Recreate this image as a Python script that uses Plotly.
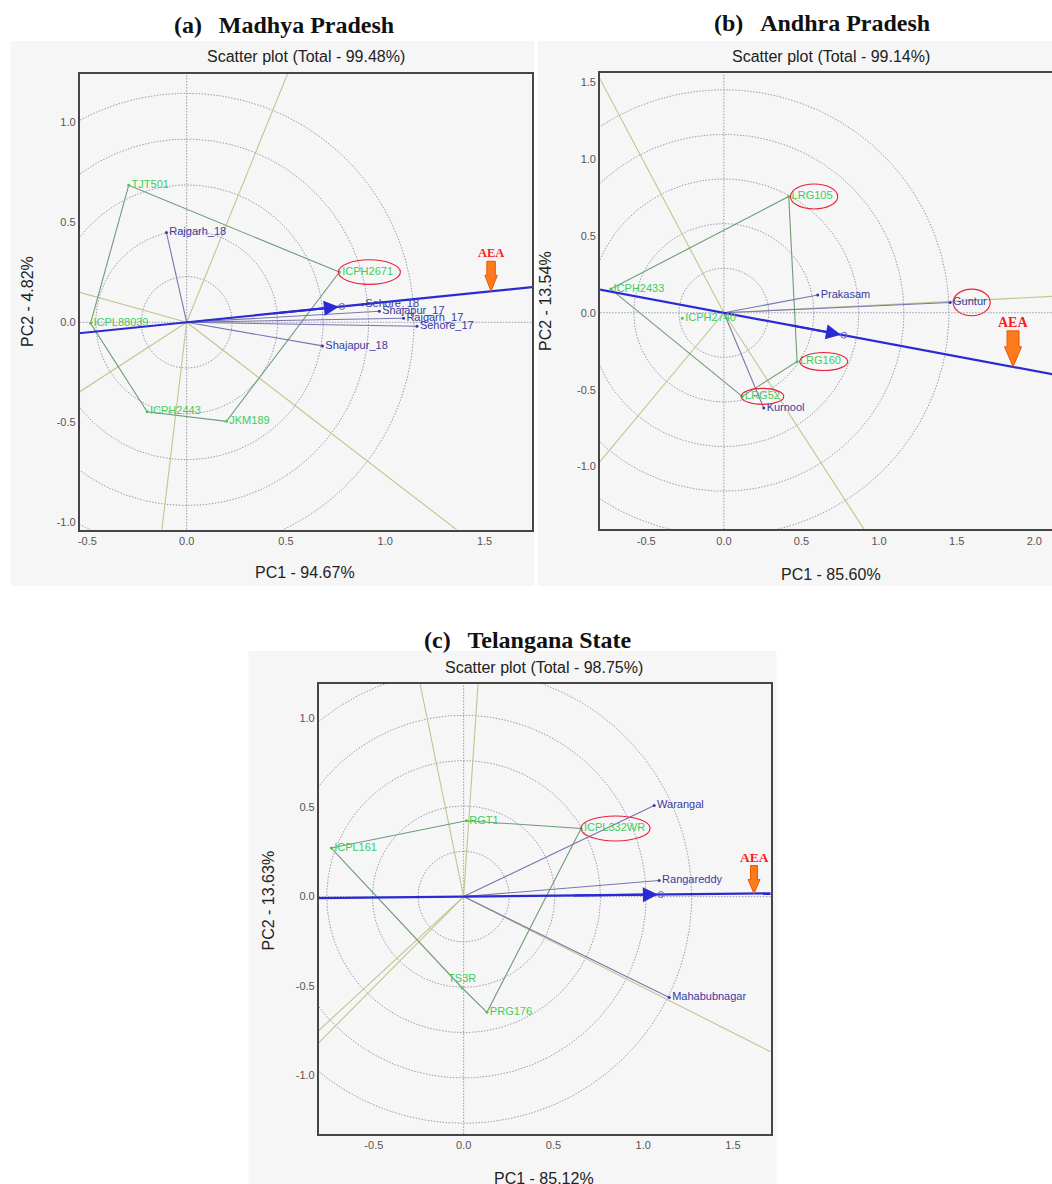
import numpy as np
import plotly.graph_objects as go

FIG_W, FIG_H = 1052, 1184

# ---------------- (a) Madhya Pradesh ----------------
a_gen_names = ["TJT501", "ICPH2671", "JKM189", "ICPH2443", "ICPL88039"]
a_gen_pc1 = [-0.292, 0.769, 0.200, -0.199, -0.484]
a_gen_pc2 = [0.685, 0.251, -0.495, -0.447, -0.005]
a_env_names = ["Rajgarh_18", "Sehore_18", "Shajapur_17", "Rajgarh_17", "Sehore_17", "Shajapur_18"]
a_env_pc1 = [-0.102, 0.885, 0.970, 1.092, 1.160, 0.684]
a_env_pc2 = [0.449, 0.088, 0.055, 0.020, -0.020, -0.118]
a_polygon = ["TJT501", "ICPH2671", "JKM189", "ICPH2443", "ICPL88039"]
a_circle_radii = [0.229, 0.458, 0.687, 0.916, 1.145]
a_highlight = ["ICPH2671"]
a_xticks = [-0.5, 0.0, 0.5, 1.0, 1.5]
a_xticklabels = ["-0.5", "0.0", "0.5", "1.0", "1.5"]
a_yticks = [-1.0, -0.5, 0.0, 0.5, 1.0]
a_yticklabels = ["-1.0", "-0.5", "0.0", "0.5", "1.0"]

# ---------------- (b) Andhra Pradesh ----------------
b_gen_names = ["ICPH2433", "LRG105", "LRG160", "LRG52", "ICPH2740"]
b_gen_pc1 = [-0.729, 0.418, 0.472, 0.118, -0.268]
b_gen_pc2 = [0.154, 0.756, -0.317, -0.544, -0.036]
b_env_names = ["Prakasam", "Guntur", "Kurnool"]
b_env_pc1 = [0.605, 1.458, 0.257]
b_env_pc2 = [0.115, 0.067, -0.620]
b_polygon = ["ICPH2433", "LRG105", "LRG160", "LRG52"]
b_circle_radii = [0.29, 0.58, 0.87, 1.16, 1.45]
b_highlight = ["LRG105", "Guntur", "LRG160", "LRG52"]
b_xticks = [-0.5, 0.0, 0.5, 1.0, 1.5, 2.0]
b_xticklabels = ["-0.5", "0.0", "0.5", "1.0", "1.5", "2.0"]
b_yticks = [-1.0, -0.5, 0.0, 0.5, 1.0, 1.5]
b_yticklabels = ["-1.0", "-0.5", "0.0", "0.5", "1.0", "1.5"]

# ---------------- (c) Telangana State ----------------
c_gen_names = ["ICPL161", "RGT1", "ICPL332WR", "PRG176", "TS3R"]
c_gen_pc1 = [-0.737, 0.015, 0.654, 0.130, -0.008]
c_gen_pc2 = [0.272, 0.425, 0.382, -0.648, -0.512]
c_env_names = ["Warangal", "Rangareddy", "Mahabubnagar"]
c_env_pc1 = [1.061, 1.089, 1.145]
c_env_pc2 = [0.510, 0.090, -0.565]
c_polygon = ["ICPL161", "RGT1", "ICPL332WR", "PRG176", "TS3R"]
c_circle_radii = [0.254, 0.508, 0.762, 1.016, 1.27]
c_highlight = ["ICPL332WR"]
c_xticks = [-0.5, 0.0, 0.5, 1.0, 1.5]
c_xticklabels = ["-0.5", "0.0", "0.5", "1.0", "1.5"]
c_yticks = [-1.0, -0.5, 0.0, 0.5, 1.0]
c_yticklabels = ["-1.0", "-0.5", "0.0", "0.5", "1.0"]

# ---------------- styling ----------------
BG = "#f6f6f6"
PLOT_BG = "#fafafa"
CIRCLE_C = "#9a9aae"
RAY_C = "#c4c48e"
POLY_C = "#6e9c78"
ENVLINE_C = "#7676ae"
GEN_TXT = "#3ccd5c"
ENV_TXT = "#3a3aa2"
AEA_C = "#2a2ad4"
FRAME_C = "#454545"
SANS = "Liberation Sans, Arial, sans-serif"
SERIF = "Liberation Serif, Times New Roman, serif"
DOTS = "1.5px,1.5px"


def px2x(px):
    return px / FIG_W


def px2y(py):
    return 1 - py / FIG_H


panels = [
    dict(
        suffix="", title="(a)\u2002\u2009Madhya Pradesh", title_xy=(283, 25),
        subtitle="Scatter plot (Total - 99.48%)", subtitle_xy=(305, 57),
        xtitle="PC1 - 94.67%", xtitle_xy=(304, 573),
        ytitle="PC2 - 4.82%", ytitle_xy=(25, 301),
        bg=(8.5, 41, 533, 586), frame=(78, 531, 73.5, 529.5),
        xrange=[-0.538, 1.739], yrange=[-1.036, 1.244], mirror_y=True,
        gen=(a_gen_names, a_gen_pc1, a_gen_pc2), env=(a_env_names, a_env_pc1, a_env_pc2),
        poly=a_polygon, radii=a_circle_radii, highlight=a_highlight,
        ell={"ICPH2671": (-1, 61, 12.3)},
        ticks=(a_xticks, a_xticklabels, a_yticks, a_yticklabels),
        aea_x=1.533, arrow=(30, 8.5, 12.5, 16), aea_font=12.5, aea_shift=38,
        label_pos={},
    ),
    dict(
        suffix="2", title="(b)\u2002\u2009Andhra Pradesh", title_xy=(822, 23),
        subtitle="Scatter plot (Total - 99.14%)", subtitle_xy=(831, 57),
        xtitle="PC1 - 85.60%", xtitle_xy=(831, 574),
        ytitle="PC2 - 13.54%", ytitle_xy=(544, 301),
        bg=(537, 41, 1052, 586), frame=(599.3, 1052, 73.3, 529.3),
        xrange=[-0.797, 2.114], yrange=[-1.408, 1.557], mirror_y=False,
        gen=(b_gen_names, b_gen_pc1, b_gen_pc2), env=(b_env_names, b_env_pc1, b_env_pc2),
        poly=b_polygon, radii=b_circle_radii, highlight=b_highlight,
        ell={"LRG105": (1.7, 49, 12.5), "Guntur": (3, 40, 13.3),
             "LRG160": (2.6, 50.6, 9), "LRG52": (-1, 41.6, 8)},
        ticks=(b_xticks, b_xticklabels, b_yticks, b_yticklabels),
        aea_x=1.863, arrow=(36, 12, 17, 20), aea_font=14, aea_shift=44,
        label_pos={},
    ),
    dict(
        suffix="3", title="(c)\u2002\u2009Telangana State", title_xy=(527, 640),
        subtitle="Scatter plot (Total - 98.75%)", subtitle_xy=(543, 667),
        xtitle="PC1 - 85.12%", xtitle_xy=(543, 1178),
        ytitle="PC2 - 13.63%", ytitle_xy=(267, 900),
        bg=(247, 651, 776, 1184), frame=(317.5, 770, 683.5, 1134),
        xrange=[-0.806, 1.709], yrange=[-1.330, 1.194], mirror_y=True,
        gen=(c_gen_names, c_gen_pc1, c_gen_pc2), env=(c_env_names, c_env_pc1, c_env_pc2),
        poly=c_polygon, radii=c_circle_radii, highlight=c_highlight,
        ell={"ICPL332WR": (0, 69, 12.5)},
        ticks=(c_xticks, c_xticklabels, c_yticks, c_yticklabels),
        aea_x=1.617, arrow=(28, 7, 12, 14), aea_font=13.5, aea_shift=36,
        label_pos={"TS3R": "top center"},
    ),
]

fig = go.Figure()
shapes = []
annotations = []
layout_axes = {}

for p in panels:
    s = p["suffix"]
    xref, yref = "x" + s, "y" + s
    gnames, gx, gy = p["gen"]
    enames, ex, ey = p["env"]
    gx = np.array(gx, float)
    gy = np.array(gy, float)
    ex = np.array(ex, float)
    ey = np.array(ey, float)

    # panel background
    x0, y0, x1, y1 = p["bg"]
    shapes.append(dict(type="rect", xref="paper", yref="paper", layer="below",
                       x0=px2x(x0), x1=px2x(x1), y0=px2y(y1), y1=px2y(y0),
                       fillcolor=BG, line=dict(width=0)))

    # origin cross-hair (dotted)
    shapes.append(dict(type="line", xref=xref, yref=yref + " domain", layer="below",
                       x0=0, x1=0, y0=0, y1=1, line=dict(color=CIRCLE_C, width=1, dash=DOTS)))
    shapes.append(dict(type="line", xref=xref + " domain", yref=yref, layer="below",
                       x0=0, x1=1, y0=0, y1=0, line=dict(color=CIRCLE_C, width=1, dash=DOTS)))

    # concentric circles
    t = np.linspace(0, 2 * np.pi, 400)
    cx, cy = [], []
    for r in p["radii"]:
        cx += list(r * np.cos(t)) + [None]
        cy += list(r * np.sin(t)) + [None]
    fig.add_trace(go.Scatter(x=cx, y=cy, mode="lines", xaxis=xref, yaxis=yref,
                             line=dict(color=CIRCLE_C, width=1, dash=DOTS),
                             hoverinfo="skip", showlegend=False))

    # polygon + perpendicular sector rays
    idx = [gnames.index(n) for n in p["poly"]]
    px_ = [gx[i] for i in idx]
    py_ = [gy[i] for i in idx]
    rx, ry = [], []
    n = len(idx)
    for k in range(n):
        A = np.array([px_[k], py_[k]])
        B = np.array([px_[(k + 1) % n], py_[(k + 1) % n]])
        d = B - A
        tt = -np.dot(A, d) / np.dot(d, d)
        f = A + tt * d
        u = f / np.linalg.norm(f)
        rx += [0, u[0] * 10, None]
        ry += [0, u[1] * 10, None]
    fig.add_trace(go.Scatter(x=rx, y=ry, mode="lines", xaxis=xref, yaxis=yref,
                             line=dict(color=RAY_C, width=1.1),
                             hoverinfo="skip", showlegend=False))
    fig.add_trace(go.Scatter(x=px_ + [px_[0]], y=py_ + [py_[0]], mode="lines",
                             xaxis=xref, yaxis=yref, line=dict(color=POLY_C, width=1.1),
                             hoverinfo="skip", showlegend=False))

    # environment vectors
    vx, vy = [], []
    for a, b in zip(ex, ey):
        vx += [0, a, None]
        vy += [0, b, None]
    fig.add_trace(go.Scatter(x=vx, y=vy, mode="lines", xaxis=xref, yaxis=yref,
                             line=dict(color=ENVLINE_C, width=1.1),
                             hoverinfo="skip", showlegend=False))

    # average environment axis
    mx, my = ex.mean(), ey.mean()
    u = np.array([mx, my]) / np.hypot(mx, my)
    fig.add_trace(go.Scatter(x=[-10 * u[0], 10 * u[0]], y=[-10 * u[1], 10 * u[1]], mode="lines",
                             xaxis=xref, yaxis=yref, line=dict(color=AEA_C, width=2.2),
                             hoverinfo="skip", showlegend=False))
    fig.add_trace(go.Scatter(x=[mx], y=[my], mode="markers", xaxis=xref, yaxis=yref,
                             marker=dict(symbol="circle-open", size=6, color="#6a6ab0",
                                         line=dict(width=1)),
                             hoverinfo="skip", showlegend=False))
    annotations.append(dict(x=mx, y=my, ax=0.55 * mx, ay=0.55 * my, xref=xref, yref=yref,
                            axref=xref, ayref=yref, showarrow=True, arrowhead=2,
                            arrowsize=1.5, arrowwidth=2, arrowcolor=AEA_C, standoff=3, text=""))

    # genotype and environment points + labels
    pos_g = [p["label_pos"].get(nm, "middle right") for nm in gnames]
    fig.add_trace(go.Scatter(x=gx, y=gy, mode="markers+text", text=gnames, textposition=pos_g,
                             xaxis=xref, yaxis=yref, cliponaxis=False,
                             marker=dict(size=3, color=GEN_TXT),
                             textfont=dict(family=SANS, size=11, color=GEN_TXT),
                             hoverinfo="text", showlegend=False))
    fig.add_trace(go.Scatter(x=ex, y=ey, mode="markers+text", text=enames, textposition="middle right",
                             xaxis=xref, yaxis=yref, cliponaxis=False,
                             marker=dict(size=3, color=ENV_TXT),
                             textfont=dict(family=SANS, size=11, color=ENV_TXT),
                             hoverinfo="text", showlegend=False))

    # red ellipses around highlighted labels
    allnames = list(gnames) + list(enames)
    allx = list(gx) + list(ex)
    ally = list(gy) + list(ey)
    for nm in p["highlight"]:
        j = allnames.index(nm)
        ox0, ox1, hh = p["ell"][nm]
        shapes.append(dict(type="circle", xref=xref, yref=yref, xsizemode="pixel", ysizemode="pixel",
                           xanchor=allx[j], yanchor=ally[j], x0=ox0, x1=ox1, y0=-hh, y1=hh,
                           line=dict(color="#e8203a", width=1.1), layer="above"))

    # orange AEA arrow
    L, sw, hw, hl = p["arrow"]
    ax_ = p["aea_x"]
    ay_ = ax_ * my / mx
    path = (f"M 0,0 L {-hw/2},{hl} L {-sw/2},{hl} L {-sw/2},{L} L {sw/2},{L} "
            f"L {sw/2},{hl} L {hw/2},{hl} Z")
    shapes.append(dict(type="path", xref=xref, yref=yref, xsizemode="pixel", ysizemode="pixel",
                       xanchor=ax_, yanchor=ay_, path=path, fillcolor="#ff7a1c",
                       line=dict(color="#e65a00", width=1), layer="above"))
    annotations.append(dict(x=ax_, y=ay_, xref=xref, yref=yref, text="<b>AEA</b>", showarrow=False,
                            yshift=p["aea_shift"], font=dict(family=SERIF, size=p["aea_font"], color="#ff1a1a")))

    # axes
    fx0, fx1, fy0, fy1 = p["frame"]
    xt, xtl, yt, ytl = p["ticks"]
    layout_axes["xaxis" + s] = dict(domain=[px2x(fx0), px2x(fx1)], range=p["xrange"], anchor=yref,
                                    showgrid=False, zeroline=False, showline=True, linecolor=FRAME_C,
                                    linewidth=2, mirror=True, ticks="", tickvals=xt, ticktext=xtl,
                                    tickfont=dict(family=SANS, size=11, color="#555555"),
                                    fixedrange=True)
    layout_axes["yaxis" + s] = dict(domain=[px2y(fy1), px2y(fy0)], range=p["yrange"], anchor=xref,
                                    showgrid=False, zeroline=False, showline=True, linecolor=FRAME_C,
                                    linewidth=2, mirror=p["mirror_y"], ticks="", tickvals=yt, ticktext=ytl,
                                    tickfont=dict(family=SANS, size=11, color="#555555"),
                                    fixedrange=True)

    # texts
    tx, ty = p["title_xy"]
    annotations.append(dict(x=px2x(tx), y=px2y(ty), xref="paper", yref="paper", text="<b>" + p["title"] + "</b>",
                            showarrow=False, font=dict(family=SERIF, size=24, color="#111111"),
                            xanchor="center", yanchor="middle"))
    sx, sy = p["subtitle_xy"]
    annotations.append(dict(x=px2x(sx), y=px2y(sy), xref="paper", yref="paper", text=p["subtitle"],
                            showarrow=False, font=dict(family=SANS, size=16, color="#222222"),
                            xanchor="center", yanchor="middle"))
    xx, xy = p["xtitle_xy"]
    annotations.append(dict(x=px2x(xx), y=px2y(xy), xref="paper", yref="paper", text=p["xtitle"],
                            showarrow=False, font=dict(family=SANS, size=16, color="#222222"),
                            xanchor="center", yanchor="middle"))
    yx, yy = p["ytitle_xy"]
    annotations.append(dict(x=px2x(yx), y=px2y(yy), xref="paper", yref="paper", text=p["ytitle"],
                            showarrow=False, textangle=-90, font=dict(family=SANS, size=16, color="#222222"),
                            xanchor="center", yanchor="middle"))

fig.update_layout(
    width=FIG_W, height=FIG_H, margin=dict(l=0, r=0, t=0, b=0),
    paper_bgcolor="white", plot_bgcolor=PLOT_BG, showlegend=False,
    shapes=shapes, annotations=annotations, **layout_axes,
)

fig.write_html(
    "out.html",
    config={"displayModeBar": False},
    post_script="document.body.style.margin='0';document.body.style.padding='0';"
                "document.body.style.overflow='hidden';",
)
